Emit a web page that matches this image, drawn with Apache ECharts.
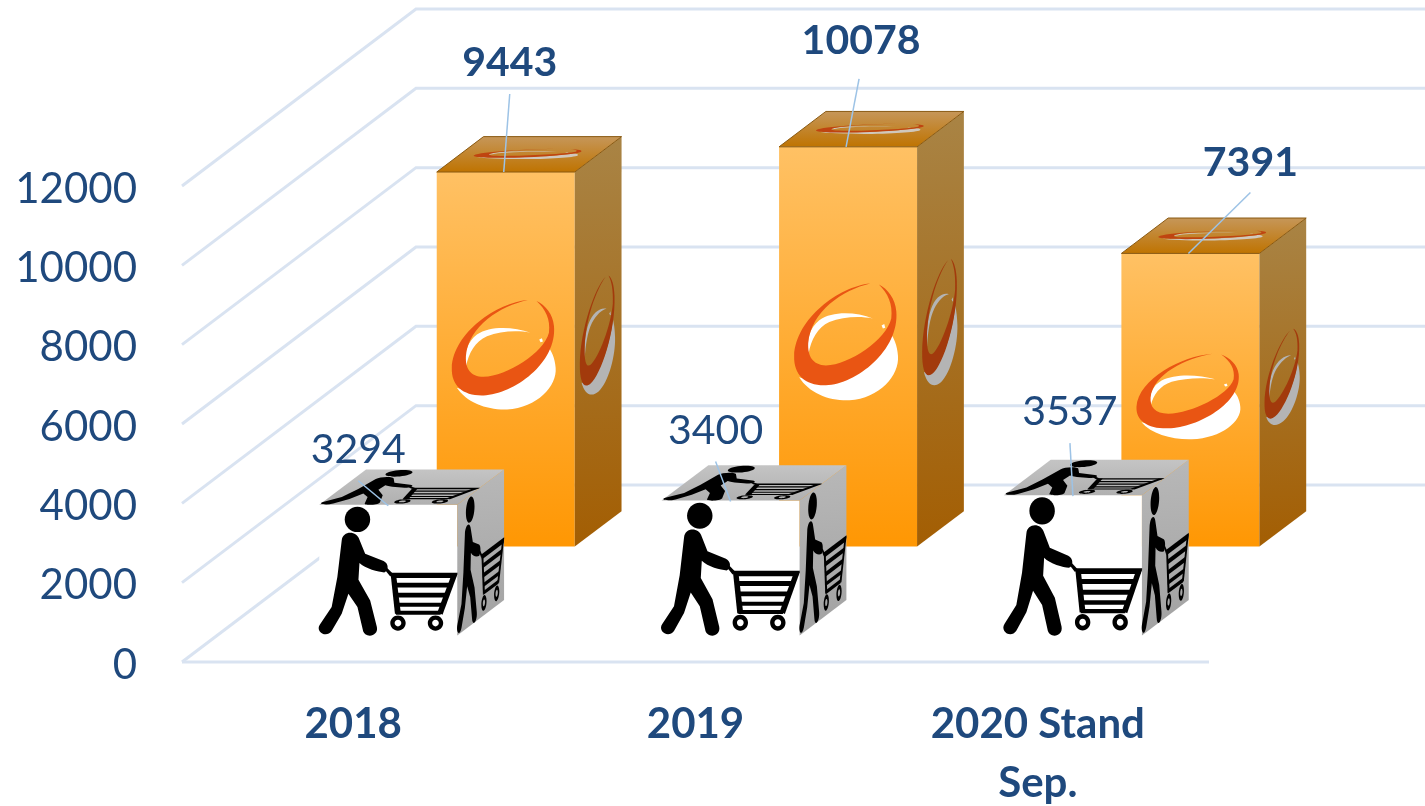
<!DOCTYPE html>
<html>
<head>
<meta charset="utf-8">
<style>
    html, body { margin: 0; padding: 0; background: #fff; }
    #myChart { width: 1425px; height: 806px; }
</style>
</head>
<body>
<div id="myChart"></div>
<script src="https://cdn.jsdelivr.net/npm/echarts@6/dist/echarts.min.js"></script>
<script>
    const categories = ['2018', '2019', '2020 Stand\nSep.'];
    const yTicks = [0, 2000, 4000, 6000, 8000, 10000, 12000];
    const boxValues = [9443, 10078, 7391];
    const cartValues = [3294, 3400, 3537];

    // 假3D：整个图往后退的偏移量，柱子用 0~1 的深度定位
    const wallDx = 234;
    const wallDy = -177;
    const barWidth = 138;
    const barDepth = 0.2;
    const boxFront = 0.652;
    const cartFront = 0.15;
    const blue = '#1F497D';
    const lineColor = '#D9E3F1';
    const leaderColor = '#9DC3E6';

    // 标签相对正面顶边中点的位置，引线起点相对标签中心
    const boxLabelPos = [[4, -109], [13, -106], [60, -91]];
    const boxLeaderStart = [[0, 31], [-2, 38], [0, 30]];
    const cartLabelPos = [[-30, -55], [-15, -70], [-3, -83]];
    const cartLeaderStart = [[0, 31], [0, 31], [0, 31]];

    // 贴图轮廓，坐标是量图时的像素，用 box 归一到 0~1
    const logoBox = { x: 410, y: 158, w: 412, h: 1123 };
    const logoOrange = [
        'M 682 542 C 590 550 460 640 455 745 C 453 800 490 830 550 828 C 640 825 770 730 760 620 C 757 585 735 558 708 545 C 735 570 750 600 745 640 C 730 700 620 770 550 772 C 510 772 495 745 497 710 C 505 620 600 560 682 542 Z'
    ];
    const logoWhite = [
        'M 690 640 C 640 622 570 618 530 645 C 503 665 490 700 498 740 C 505 700 525 665 560 650 C 600 635 650 632 690 640 Z',
        'M 470 805 C 500 850 560 872 620 870 C 710 865 770 800 765 745 C 763 715 752 695 745 685 C 740 720 680 790 600 810 C 550 820 500 815 470 805 Z',
        'M 716 660 L 724 656 L 727 666 L 720 668 Z'
    ];

    const cartBox = { x: 58, y: 253, w: 412, h: 392 };
    const cartIcon = [
        circleArt(172, 297, 38, false),
        // 人
        'M 125 360 C 128 330 170 330 178 358 L 195 400 L 250 422 C 266 430 266 450 252 456 C 235 455 195 445 178 428 L 175 478 L 210 540 L 230 620 C 236 650 192 655 188 628 L 172 560 L 145 520 L 125 580 L 95 632 C 78 655 45 632 60 612 L 95 560 L 112 470 Z',
        'M 252 446 L 260 442 L 278 460 L 270 468 Z',
        // 购物车
        'M 270 457 L 471 457 L 465 473 L 275 473 Z',
        'M 271 460 L 287 460 L 301 575 L 284 581 Z',
        'M 454 460 L 471 460 L 426 583 L 411 575 Z',
        'M 278 487 L 453 487 L 448 501 L 279 501 Z',
        'M 282 517 L 443 517 L 438 531 L 283 531 Z',
        'M 285 547 L 431 547 L 426 559 L 286 559 Z',
        'M 286 571 L 425 571 L 420 583 L 287 583 Z',
        circleArt(293, 608, 23, false) + ' ' + circleArt(293, 608, 10, true),
        circleArt(405, 608, 23, false) + ' ' + circleArt(405, 608, 10, true)
    ];

    function circleArt(cx, cy, r, reverse) {
        let k = r * 0.5523;
        let s = reverse ? -1 : 1;
        return ['M', cx + r, cy,
            'C', cx + r, cy + s * k, cx + k, cy + s * r, cx, cy + s * r,
            'C', cx - k, cy + s * r, cx - r, cy + s * k, cx - r, cy,
            'C', cx - r, cy - s * k, cx - k, cy - s * r, cx, cy - s * r,
            'C', cx + k, cy - s * r, cx + r, cy - s * k, cx + r, cy, 'Z'].join(' ');
    }

    // 把轮廓按 面的原点 o 和两条边 u、v 映射到屏幕
    function mapArt(art, box, face) {
        let parts = art.trim().split(/\s+/);
        let out = [];
        let i = 0;
        while (i < parts.length) {
            if (/[A-Z]/.test(parts[i])) {
                out.push(parts[i]);
                i++;
            } else {
                let a = (parts[i] - box.x) / box.w;
                let b = (parts[i + 1] - box.y) / box.h;
                out.push(face.o[0] + a * face.u[0] + b * face.v[0]);
                out.push(face.o[1] + a * face.u[1] + b * face.v[1]);
                i += 2;
            }
        }
        return out.join(' ');
    }

    function artPaths(list, box, face, fill) {
        return list.map(art => ({
            type: 'path',
            shape: { pathData: mapArt(art, box, face) },
            style: { fill: fill }
        }));
    }

    function grad(x2, y2, c0, c1) {
        return {
            type: 'linear', x: 0, y: 0, x2: x2, y2: y2,
            colorStops: [{ offset: 0, color: c0 }, { offset: 1, color: c1 }]
        };
    }

    function poly(points, fill, stroke) {
        return {
            type: 'polygon',
            shape: { points: points },
            style: { fill: fill, stroke: stroke || 'none', lineWidth: stroke ? 1 : 0 }
        };
    }

    // 算一根柱子三个面的位置
    function boxFaces(api, front) {
        let idx = api.value(0);
        let base = api.coord([idx, 0]);
        let top = api.coord([idx, api.value(1)]);
        let left = base[0] + wallDx * front - barWidth / 2;
        let right = left + barWidth;
        let bottom = base[1] + wallDy * front;
        let topY = top[1] + wallDy * front;
        let dx = wallDx * barDepth;
        let dy = wallDy * barDepth;
        return {
            left, right, bottom, topY, dx, dy,
            front: { o: [left, topY], u: [barWidth, 0], v: [0, bottom - topY] },
            side: { o: [right, topY], u: [dx, dy], v: [0, bottom - topY] },
            top: { o: [left + dx, topY + dy], u: [barWidth, 0], v: [-dx, -dy] }
        };
    }

    function sidePoly(f, fill) {
        return poly([[f.right, f.topY], [f.right + f.dx, f.topY + f.dy], [f.right + f.dx, f.bottom + f.dy], [f.right, f.bottom]], fill);
    }

    function topPoly(f, fill, stroke) {
        return poly([[f.left, f.topY], [f.left + f.dx, f.topY + f.dy], [f.right + f.dx, f.topY + f.dy], [f.right, f.topY]], fill, stroke);
    }

    function labelParts(f, value, pos, start, bold) {
        let cx = (f.left + f.right) / 2;
        let lx = cx + pos[0];
        let ly = f.topY + pos[1];
        return [{
            type: 'line',
            shape: { x1: lx + start[0], y1: ly + start[1], x2: cx + (bold ? -2 : 0), y2: f.topY + (bold ? 0 : 1) },
            style: { stroke: leaderColor, lineWidth: 1.5 }
        }, {
            type: 'text',
            style: {
                text: String(value), x: lx, y: ly, align: 'center', verticalAlign: 'middle',
                fill: blue, font: (bold ? 'bold ' : '') + '41px Lato'
            }
        }];
    }

    function renderGrid(params, api) {
        let rect = params.coordSys;
        let y = api.coord([0, api.value(1)])[1];
        let endX = api.getWidth();
        let bx = rect.x + wallDx;
        let children = [{
            type: 'polyline',
            shape: { points: [[rect.x, y], [bx, y + wallDy], [endX, y + wallDy]] },
            style: { stroke: lineColor, lineWidth: 3, fill: 'none' }
        }];
        if (api.value(1) === 0) {
            children.push({
                type: 'line',
                shape: { x1: rect.x, y1: y, x2: rect.x + rect.width, y2: y },
                style: { stroke: lineColor, lineWidth: 3 }
            });
        }
        return { type: 'group', children: children };
    }

    function renderBox(params, api) {
        let f = boxFaces(api, boxFront);
        let i = params.dataIndex;
        let children = [
            poly([[f.left, f.topY], [f.right, f.topY], [f.right, f.bottom], [f.left, f.bottom]], grad(0, 1, '#FFC164', '#FF9703')),
            sidePoly(f, grad(0.3, 1, '#A98445', '#A35E03')),
            topPoly(f, grad(0, 1, '#C6975A', '#BF7300'), '#8A5A12')
        ];
        children = children
            .concat(artPaths(logoWhite, logoBox, f.front, '#FFFFFF'))
            .concat(artPaths(logoOrange, logoBox, f.front, '#E95513'))
            .concat(artPaths(logoWhite, logoBox, f.side, '#B4B4B4'))
            .concat(artPaths(logoOrange, logoBox, f.side, '#A23A0C'))
            .concat(artPaths(logoWhite, logoBox, f.top, '#D0C8BC'))
            .concat(artPaths(logoOrange, logoBox, f.top, '#BF4410'))
            .concat(labelParts(f, api.value(1), boxLabelPos[i], boxLeaderStart[i], true));
        return { type: 'group', children: children };
    }

    function renderCart(params, api) {
        let f = boxFaces(api, cartFront);
        let i = params.dataIndex;
        let children = [
            poly([[f.left, f.topY], [f.right, f.topY], [f.right, f.bottom], [f.left, f.bottom]], '#FFFFFF'),
            sidePoly(f, grad(0.3, 1, '#B8B8B8', '#A2A2A2')),
            topPoly(f, grad(0, 1, '#C4C4C4', '#B0B0B0'))
        ];
        children = children
            .concat(artPaths(cartIcon, cartBox, f.front, '#000000'))
            .concat(artPaths(cartIcon, cartBox, f.side, '#000000'))
            .concat(artPaths(cartIcon, cartBox, f.top, '#000000'))
            .concat(labelParts(f, api.value(1), cartLabelPos[i], cartLeaderStart[i], false));
        return { type: 'group', children: children };
    }

    let myChart = echarts.init(document.getElementById('myChart'));
    myChart.setOption({
        animation: false,
        backgroundColor: '#fff',
        grid: { left: 182, right: 216, top: 186, bottom: 144, outerBoundsMode: 'none' },
        xAxis: {
            type: 'category',
            data: categories,
            axisLine: { show: false },
            axisTick: { show: false },
            axisLabel: {
                margin: 33,
                interval: 0,
                color: blue,
                fontFamily: 'Lato',
                fontWeight: 'bold',
                fontSize: 42,
                lineHeight: 59
            }
        },
        yAxis: {
            type: 'value',
            min: 0,
            max: 12000,
            interval: 2000,
            axisLine: { show: false },
            axisTick: { show: false },
            splitLine: { show: false },
            axisLabel: {
                margin: 45,
                formatter: v => '{n|' + v + '}',
                rich: {
                    n: {
                        color: blue,
                        fontFamily: 'Lato',
                        fontSize: 42,
                        lineHeight: 42,
                        padding: [6, 0, 0, 0]
                    }
                }
            }
        },
        series: [{
            type: 'custom',
            silent: true,
            renderItem: renderGrid,
            encode: { x: 0, y: 1 },
            data: yTicks.map(t => [0, t]),
            z: 1
        }, {
            type: 'custom',
            silent: true,
            renderItem: renderBox,
            encode: { x: 0, y: 1 },
            data: boxValues.map((v, i) => [i, v]),
            z: 2
        }, {
            type: 'custom',
            silent: true,
            renderItem: renderCart,
            encode: { x: 0, y: 1 },
            data: cartValues.map((v, i) => [i, v]),
            z: 3
        }]
    });
</script>
</body>
</html>
